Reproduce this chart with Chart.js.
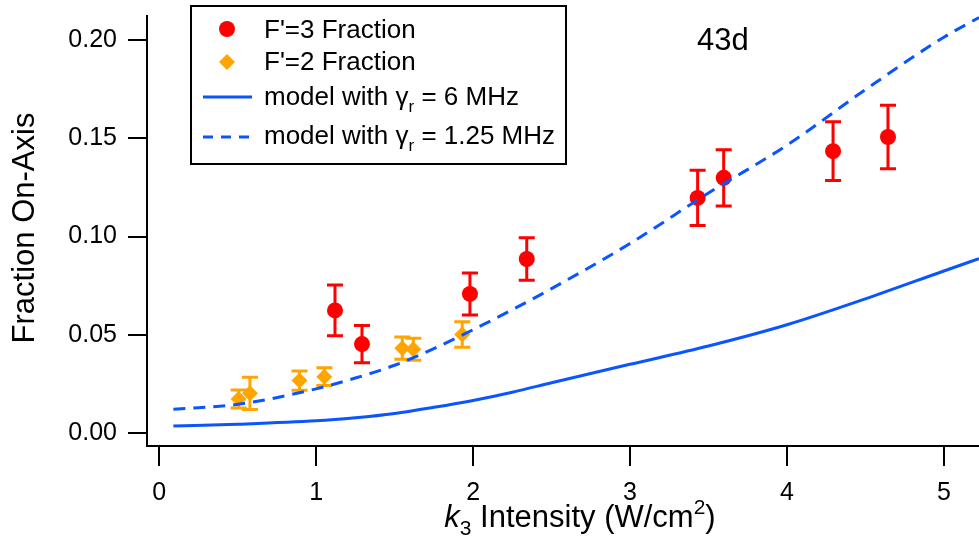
<!DOCTYPE html>
<html>
<head>
<meta charset="utf-8">
<script src="https://cdn.jsdelivr.net/npm/chart.js@4/dist/chart.umd.min.js"></script>
<style>
  html, body { margin: 0; padding: 0; background: #fff; overflow: hidden; }
  #wrap { width: 979px; height: 537px; }
</style>
</head>
<body>
<div id="wrap"><canvas id="chart" width="979" height="537"></canvas></div>
<script>
// F'=3 fraction data (red circles)
const f3X = [1.120, 1.292, 1.980, 2.342, 3.431, 3.597, 4.294, 4.644];
const f3Y = [0.0624, 0.0453, 0.0708, 0.0886, 0.1197, 0.1299, 0.1435, 0.1507];
const f3Err = [0.0129, 0.0095, 0.0107, 0.0108, 0.0141, 0.0143, 0.0150, 0.0162];

// F'=2 fraction data (orange diamonds)
const f2X = [0.506, 0.578, 0.894, 1.052, 1.549, 1.619, 1.931];
const f2Y = [0.0173, 0.0202, 0.0267, 0.0287, 0.0432, 0.0427, 0.0502];
const f2Err = [0.0046, 0.0082, 0.0049, 0.0045, 0.0057, 0.0056, 0.0065];

// model curves
const modelX = [0.09, 0.5, 1.0, 1.25, 1.5, 1.75, 2.0, 2.25, 2.5, 3.0, 3.5, 4.0, 4.5, 5.0, 5.224];
const model6Y = [0.0036, 0.0045, 0.0062, 0.0078, 0.0100, 0.0131, 0.0166, 0.0208, 0.0256, 0.0350, 0.0443, 0.0551, 0.0683, 0.0825, 0.0888];
const model125Y = [0.0121, 0.0146, 0.0225, 0.0280, 0.0345, 0.0430, 0.0526, 0.0628, 0.0735, 0.0965, 0.1222, 0.1465, 0.1748, 0.2015, 0.2115];

const xTicks = [0, 1, 2, 3, 4, 5];
const yTicks = [0, 0.05, 0.10, 0.15, 0.20];

const FONT = '"Liberation Sans", Arial, Helvetica, sans-serif';
const RED = "#ff0000";
const ORANGE = "#ffa500";
const BLUE = "#0a55ff";

const zip = (xs, ys) => xs.map((x, i) => ({ x, y: ys[i] }));

const errorBars = {
    id: "errorBars",
    beforeDatasetsDraw(chart) {
        const { ctx, scales: { x, y } } = chart;
        chart.data.datasets.forEach((ds) => {
            if (!ds.errors) return;
            ctx.save();
            ctx.strokeStyle = ds.errColor;
            ctx.lineWidth = 3;
            ds.data.forEach((p, i) => {
                const px = x.getPixelForValue(p.x);
                const top = y.getPixelForValue(p.y + ds.errors[i]);
                const bot = y.getPixelForValue(p.y - ds.errors[i]);
                ctx.beginPath();
                ctx.moveTo(px, top); ctx.lineTo(px, bot);
                ctx.moveTo(px - 8, top); ctx.lineTo(px + 8, top);
                ctx.moveTo(px - 8, bot); ctx.lineTo(px + 8, bot);
                ctx.stroke();
            });
            ctx.restore();
        });
    },
};

function runsWidth(ctx, runs) {
    let w = 0;
    runs.forEach((r) => { ctx.font = r.font; w += ctx.measureText(r.text).width; });
    return w;
}
function drawRuns(ctx, runs, x, base) {
    runs.forEach((r) => {
        ctx.font = r.font;
        ctx.fillText(r.text, x, base + (r.dy || 0));
        x += ctx.measureText(r.text).width;
    });
}

const annotations = {
    id: "annotations",
    afterDraw(chart) {
        const { ctx } = chart;
        ctx.save();
        ctx.fillStyle = "#000";
        ctx.textBaseline = "alphabetic";
        ctx.textAlign = "left";

        // y title
        ctx.save();
        ctx.translate(34, 228);
        ctx.rotate(-Math.PI / 2);
        ctx.textAlign = "center";
        ctx.font = `31px ${FONT}`;
        ctx.fillText("Fraction On-Axis", 0, 0);
        ctx.restore();

        // x title
        const big = `31px ${FONT}`, small = `21px ${FONT}`;
        const xRuns = [
            { text: "k", font: `italic 31px ${FONT}` },
            { text: "3", font: small, dy: 8 },
            { text: " Intensity (W/cm", font: big },
            { text: "2", font: small, dy: -13 },
            { text: ")", font: big },
        ];
        const w = runsWidth(ctx, xRuns);
        drawRuns(ctx, xRuns, 580 - w / 2, 527);

        // panel label
        ctx.font = `31px ${FONT}`;
        ctx.fillText("43d", 697, 50);

        // legend box
        ctx.fillStyle = "#fff";
        ctx.fillRect(191, 6, 375, 158);
        ctx.strokeStyle = "#000";
        ctx.lineWidth = 2;
        ctx.strokeRect(191, 6, 375, 158);

        ctx.fillStyle = RED;
        ctx.beginPath(); ctx.arc(227, 29, 8, 0, Math.PI * 2); ctx.fill();
        ctx.fillStyle = ORANGE;
        ctx.beginPath();
        ctx.moveTo(227, 54); ctx.lineTo(235, 62); ctx.lineTo(227, 70); ctx.lineTo(219, 62);
        ctx.closePath(); ctx.fill();
        ctx.strokeStyle = BLUE;
        ctx.lineWidth = 3;
        ctx.beginPath(); ctx.moveTo(203, 97); ctx.lineTo(252, 97); ctx.stroke();
        ctx.setLineDash([10, 8]);
        ctx.beginPath(); ctx.moveTo(203, 137); ctx.lineTo(252, 137); ctx.stroke();
        ctx.setLineDash([]);

        ctx.fillStyle = "#000";
        const lf = `26px ${FONT}`, ls = `17px ${FONT}`;
        drawRuns(ctx, [{ text: "F'=3 Fraction", font: lf }], 264, 38);
        drawRuns(ctx, [{ text: "F'=2 Fraction", font: lf }], 264, 70);
        drawRuns(ctx, [
            { text: "model with \u03b3", font: lf },
            { text: "r", font: ls, dy: 7 },
            { text: " = 6 MHz", font: lf },
        ], 264, 105);
        drawRuns(ctx, [
            { text: "model with \u03b3", font: lf },
            { text: "r", font: ls, dy: 7 },
            { text: " = 1.25 MHz", font: lf },
        ], 264, 144);
        ctx.restore();
    },
};

function noPad(s) {
    s.paddingTop = 0;
    s.paddingBottom = 0;
    s.paddingLeft = 0;
    s.paddingRight = 0;
}

new Chart(document.getElementById("chart"), {
    type: "scatter",
    data: {
        datasets: [
            {
                label: "model with \u03b3r = 6 MHz",
                type: "line",
                data: zip(modelX, model6Y),
                borderColor: BLUE,
                borderWidth: 3,
                pointRadius: 0,
                cubicInterpolationMode: "monotone",
                fill: false,
                order: 0,
            },
            {
                label: "model with \u03b3r = 1.25 MHz",
                type: "line",
                data: zip(modelX, model125Y),
                borderColor: BLUE,
                borderWidth: 3,
                borderDash: [12, 8],
                pointRadius: 0,
                cubicInterpolationMode: "monotone",
                fill: false,
                order: 0,
            },
            {
                label: "F'=3 Fraction",
                data: zip(f3X, f3Y),
                errors: f3Err,
                errColor: RED,
                pointStyle: "circle",
                pointRadius: 8,
                backgroundColor: RED,
                borderWidth: 0,
                order: 1,
            },
            {
                label: "F'=2 Fraction",
                data: zip(f2X, f2Y),
                errors: f2Err,
                errColor: ORANGE,
                pointStyle: "rectRot",
                pointRadius: 8,
                backgroundColor: ORANGE,
                borderWidth: 0,
                order: 1,
            },
        ],
    },
    options: {
        responsive: false,
        animation: false,
        layout: { autoPadding: false, padding: { top: 16, left: 0, right: 0, bottom: 0 } },
        plugins: { legend: { display: false }, tooltip: { enabled: false } },
        scales: {
            x: {
                type: "linear",
                min: -0.078,
                max: 5.224,
                afterBuildTicks: (s) => { s.ticks = xTicks.map((v) => ({ value: v })); },
                afterFit: (s) => { s.height = 91; noPad(s); },
                ticks: {
                    color: "#000",
                    font: { family: FONT, size: 25 },
                    padding: 12,
                    maxRotation: 0,
                    callback: (v) => String(v),
                },
                grid: { drawOnChartArea: false, tickLength: 20, color: "#000", lineWidth: 2 },
                border: { display: true, color: "#000", width: 2 },
            },
            y: {
                type: "linear",
                min: -0.0066,
                max: 0.2123,
                afterBuildTicks: (s) => { s.ticks = yTicks.map((v) => ({ value: v })); },
                afterFit: (s) => { s.width = 147; noPad(s); },
                ticks: {
                    color: "#000",
                    font: { family: FONT, size: 25 },
                    padding: 11,
                    callback: (v) => Number(v).toFixed(2),
                },
                grid: { drawOnChartArea: false, tickLength: 19, color: "#000", lineWidth: 2 },
                border: { display: true, color: "#000", width: 2 },
            },
        },
    },
    plugins: [errorBars, annotations],
});
</script>
</body>
</html>
